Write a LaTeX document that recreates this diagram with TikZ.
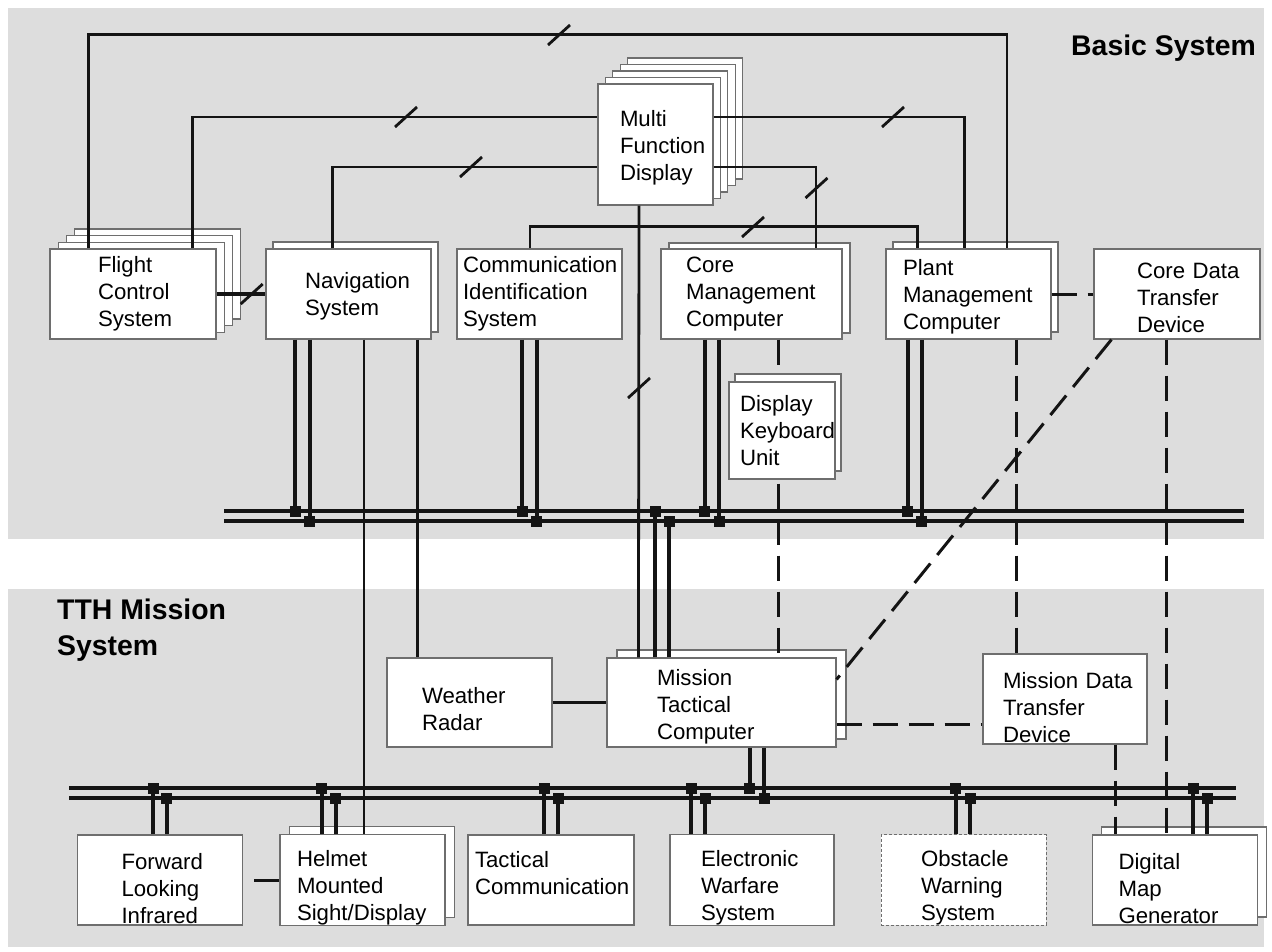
\documentclass[tikz,border=0pt]{standalone}
\usepackage{fontspec}
\setmainfont{Liberation Sans}
\usetikzlibrary{shadows}

\hyphenpenalty=10000

\definecolor{panel}{RGB}{221,221,221}
\definecolor{edge}{RGB}{110,110,110}
\definecolor{ink}{RGB}{20,20,20}

\tikzset{
    unitbox/.style={draw=edge, line width=1.1pt, fill=white, align=left,
        inner ysep=0pt, font={\fontsize{22.2}{27}\selectfont}},
    dims/.style n args={4}{minimum width=#1pt, minimum height=#2pt,
        inner xsep=#3pt, text width=#4pt},
    sheet/.style 2 args={copy shadow={shadow xshift=#1pt, shadow yshift=#2pt, fill=white}},
    heading/.style={inner sep=0pt, font={\fontsize{28.4}{36}\selectfont\bfseries}},
    link/.style={draw=ink, line width=2.8pt},
    thicklink/.style={draw=ink, line width=3.5pt},
    dashlink/.style={draw=ink, line width=3pt, dash pattern=on 25pt off 11pt},
    tap/.style={draw=ink, line width=4pt},
    bus/.style={draw=ink, line width=4pt}
}

\begin{document}
\begin{tikzpicture}[x=1pt, y=-1pt]
    \useasboundingbox[fill=white] (0,0) rectangle (1272,951);
    % the two system areas
    \fill[panel] (8,8) rectangle (1264,539);
    \fill[panel] (8,589) rectangle (1264,947);
    \node[heading, anchor=base west] (basic) at (1071,55) {Basic System};
    \node[heading, anchor=west, align=left] (tth) at (57,630) {TTH Mission\\System};

    % basic system
    \node[unitbox, dims={166}{90}{48}{70}, sheet={24.6}{20}, sheet={16.4}{13.4}, sheet={8.2}{6.7}]
        (fcs) at (133,294) {Flight\\Control\\System};
    \node[unitbox, dims={165}{90}{39}{87}, text height=21.2pt, sheet={7}{7}] (nav) at (348.5,294) {Navigation\\System};
    \node[unitbox, dims={165}{90}{6}{153}] (cis) at (539.5,294) {Communication\\Identification\\System};
    \node[unitbox, dims={181}{90}{25}{131}, sheet={8}{6}] (cmc) at (751.5,294) {Core\\Management\\Computer};
    \node[unitbox, dims={165}{90}{17}{131}, text height=22.2pt, sheet={7}{7}] (pmc) at (968.5,294) {Plant\\Management\\Computer};
    \node[unitbox, dims={166}{90}{43}{80}, text height=24.2pt] (cdtd) at (1177,294) {Core~Data\\Transfer\\Device};
    \node[unitbox, dims={115}{121}{22}{71}, text height=22.2pt, sheet={29.6}{26}, sheet={22.2}{19.5}, sheet={14.8}{13}, sheet={7.4}{6.5}]
        (mfd) at (655.5,144.5) {Multi\\Function\\Display};

    % mission system
    \node[unitbox, dims={165}{89}{35}{95}, text height=28.2pt] (wr) at (469.5,702.5) {Weather\\Radar};
    \node[unitbox, dims={229}{89}{50}{129}, text height=25.2pt, sheet={10}{8}] (mtc) at (721.5,702.5) {Mission\\Tactical\\Computer};
    \node[unitbox, dims={164}{90}{20}{124}, text height=32.2pt] (mdtd) at (1065,699) {Mission~Data\\Transfer\\Device};
    \node[unitbox, dims={165}{90}{44}{77}, text height=32.2pt] (flir) at (160,880) {Forward\\Looking\\Infrared};
    \node[unitbox, dims={165}{90}{17}{131}, text height=32.2pt, sheet={9.5}{8}] (hmsd) at (362.5,880) {Helmet\\Mounted\\Sight/Display};
    \node[unitbox, dims={166}{90}{7}{152}, text depth=41pt] (tc) at (551,880) {Tactical\\Communication};
    \node[unitbox, dims={164}{90}{31}{102}, text height=32.2pt] (ews) at (752,880) {Electronic\\Warfare\\System};
    \node[unitbox, dims={165}{90}{40}{85}, text height=32.2pt, densely dashed, line width=0.9pt] (ows) at (963.5,880) {Obstacle\\Warning\\System};
    \node[unitbox, dims={165}{90}{26}{113}, text height=32.2pt, sheet={8.7}{8}] (dmg) at (1175,880) {Digital\\Map\\Generator};

    % data buses
    \coordinate (ubusa) at (224,511);
    \coordinate (ubusb) at (224,521);
    \coordinate (lbusa) at (69,788);
    \coordinate (lbusb) at (69,798);
    \draw[bus] (ubusa) -- (1244,511);
    \draw[bus] (ubusb) -- (1244,521);
    \draw[bus] (lbusa) -- (1236,788);
    \draw[bus] (lbusb) -- (1236,798);
    \foreach \u/\a/\xl/\xr in {nav/south/295/309.5, cis/south/522.4/536.7, cmc/south/704.7/719,
                              pmc/south/907.5/921.8, mtc/north/655/669.3}{
        \draw[tap] (\xl,0 |- \u.\a) -- (\xl,0 |- ubusa);
        \draw[tap] (\xr,0 |- \u.\a) -- (\xr,0 |- ubusb);
        \fill[ink] (\xl,0 |- ubusa) +(-5.5,-5.5) rectangle +(5.5,5.5);
        \fill[ink] (\xr,0 |- ubusb) +(-5.5,-5.5) rectangle +(5.5,5.5);
    }
    \foreach \u/\a/\xl/\xr in {mtc/south/749.6/764, flir/north/153/166.5, hmsd/north/321.6/335.5,
                              tc/north/544/558, ews/north/691/705, ows/north/955.7/970, dmg/north/1193/1207}{
        \draw[tap] (\xl,0 |- \u.\a) -- (\xl,0 |- lbusa);
        \draw[tap] (\xr,0 |- \u.\a) -- (\xr,0 |- lbusb);
        \fill[ink] (\xl,0 |- lbusa) +(-5.5,-5.5) rectangle +(5.5,5.5);
        \fill[ink] (\xr,0 |- lbusb) +(-5.5,-5.5) rectangle +(5.5,5.5);
    }

    % point to point links
    \draw[link] ([xshift=39]fcs.north west) -- ++(0,-214) -| ([xshift=121.5]pmc.north west);
    \draw[link] ([xshift=143]fcs.north west) |- ([yshift=27.5]mfd.west);
    \draw[link] ([yshift=27.5]mfd.east) -| ([xshift=78.7]pmc.north west);
    \draw[link] ([xshift=66.7]nav.north west) |- ([yshift=-22.5]mfd.west);
    \draw[link] ([yshift=-22.5]mfd.east) -| ([xshift=155.5]cmc.north west);
    \draw[link] ([xshift=73.6]cis.north west) -- ++(0,-22) -| ([xshift=31.8]pmc.north west);
    \draw[link] ([xshift=-16.5]mfd.south) -- ([xshift=32]mtc.north west);
    \draw[link] ([xshift=98.5]nav.south west) -- ([xshift=84.5]hmsd.north west);
    \draw[link] ([xshift=152]nav.south west) -- ([xshift=31]wr.north west);
    \draw[thicklink] (fcs.east) -- (nav.west);
    \draw[thicklink] (wr.east) -- (mtc.west);
    \foreach \p in {(559,35), (406,117), (893,117), (471,167), (816.5,188), (753,227), (639,388), (251.7,294)}
        \draw[link] \p ++(-11,10) -- ++(22,-20);

    % data transfer links
    \draw[dashlink] ([xshift=118]cmc.south west) -- ([xshift=172]mtc.north west);
    \draw[dashlink] ([xshift=131]pmc.south west) -- ([xshift=34]mdtd.north west);
    \draw[dashlink] ([xshift=73]cdtd.south west) -- ([xshift=74.5]dmg.north west);
    \draw[dashlink] ([xshift=132.7]mdtd.south west) -- ([xshift=23.2]dmg.north west);
    \draw[dashlink] ([xshift=18]cdtd.south west) -- ([yshift=-22]mtc.north east);
    \draw[dashlink] ([yshift=-21.5]mtc.east) -- ([yshift=-25]mdtd.west);
    \draw[dashlink] (pmc.east) -- (cdtd.west);
    \draw[dashlink, dash phase=25pt] (flir.east) -- (hmsd.west);

    \node[unitbox, dims={106}{97}{11}{84}, sheet={6}{8}] (dku) at (782,430.5) {Display\\Keyboard\\Unit};
\end{tikzpicture}
\end{document}
